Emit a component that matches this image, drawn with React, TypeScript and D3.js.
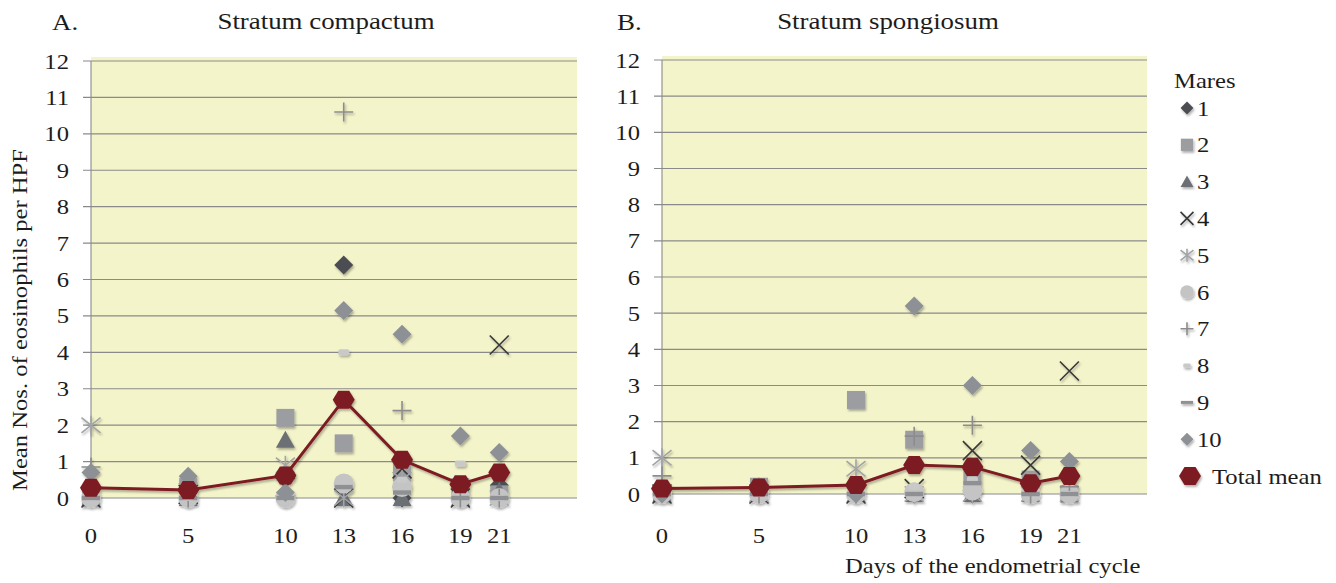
import React from 'react';
import * as d3 from 'd3';

// ---------- data ----------
const days = [0, 5, 10, 13, 16, 19, 21];
const yTickValues = d3.range(0, 13);
const mareLabels = ['1', '2', '3', '4', '5', '6', '7', '8', '9', '10'];

// Stratum compactum (panel A), values per day
const compactM1 = [0, 0.3, 0, 6.4, 0, 0, 0.35];
const compactM2 = [0, 0.3, 2.2, 1.5, 0.7, 0.3, 0.1];
const compactM3 = [0, 0, 1.6, 0, 0, 0, 0.2];
const compactM4 = [0, 0.1, 0.3, 0, 0.8, 0, 4.2];
const compactM5 = [2.0, 0.2, 0.9, 0, 0.5, 0.2, 0];
const compactM6 = [0, 0, 0, 0.4, 0.3, 0, 0];
const compactM7 = [0.85, 0, 0.5, 10.6, 2.4, 0, 0];
const compactM8 = [0, 0, 0, 4.0, 0.5, 0.95, 0];
const compactM9 = [0, 0, 0, 0.3, 0.15, 0, 0];
const compactM10 = [0.7, 0.6, 0.15, 5.15, 4.5, 1.7, 1.25];
const compactMean = [0.28, 0.22, 0.62, 2.7, 1.05, 0.38, 0.7];

// Stratum spongiosum (panel B)
const spongM1 = [0, 0, 0, 0, 0, 0, 0];
const spongM2 = [0, 0.2, 2.6, 1.5, 0.5, 0.4, 0];
const spongM3 = [0, 0, 0, 0, 0, 0, 0];
const spongM4 = [0, 0, 0, 0.15, 1.2, 0.8, 3.4];
const spongM5 = [1.0, 0, 0.7, 0, 0, 0, 0];
const spongM6 = [0, 0, 0, 0.05, 0.1, 0, 0];
const spongM7 = [0.5, 0, 0, 1.6, 1.9, 0, 0.2];
const spongM8 = [0, 0, 0, 0.2, 0.4, 0.4, 0];
const spongM9 = [0, 0, 0, 0, 0.3, 0, 0];
const spongM10 = [0, 0.2, 0, 5.2, 3.0, 1.2, 0.9];
const spongMean = [0.15, 0.18, 0.25, 0.8, 0.75, 0.3, 0.5];

const compactSeries = [compactM1, compactM2, compactM3, compactM4, compactM5, compactM6, compactM7, compactM8, compactM9, compactM10];
const spongSeries = [spongM1, spongM2, spongM3, spongM4, spongM5, spongM6, spongM7, spongM8, spongM9, spongM10];

// ---------- styles ----------
const markerKinds = ['diamond', 'square', 'triangle', 'cross', 'asterisk', 'circle', 'plus', 'dashShort', 'dashLong', 'diamond'];
const markerColors = ['#4b4d53', '#9b9da0', '#6c6f74', '#383838', '#a2a4a7', '#c4c4c4', '#8c8c8c', '#c9c9c9', '#8e9094', '#8d9095'];
const meanColor = '#7b1b22';
const FONT = "'Liberation Serif', 'Times New Roman', serif";

const Marker = ({ kind, color, s = 1 }: { kind: string; color: string; s?: number }) => {
  const h = 9.5 * s;
  switch (kind) {
    case 'diamond':
      return <path d={`M0,${-h}L${h},0L0,${h}L${-h},0Z`} fill={color} />;
    case 'square':
      return <rect x={-9 * s} y={-9 * s} width={18 * s} height={18 * s} fill={color} />;
    case 'triangle':
      return <path d={`M0,${-9 * s}L${9.5 * s},${8 * s}L${-9.5 * s},${8 * s}Z`} fill={color} />;
    case 'cross':
      return <path d={`M${-h},${-h}L${h},${h}M${-h},${h}L${h},${-h}`} stroke={color} strokeWidth={1.6} fill="none" />;
    case 'asterisk':
      return <path d={`M${-h},${-h * 0.8}L${h},${h * 0.8}M${-h},${h * 0.8}L${h},${-h * 0.8}M0,${-h}L0,${h}`} stroke={color} strokeWidth={1.6} fill="none" />;
    case 'circle':
      return <circle r={10 * s} fill={color} />;
    case 'plus':
      return <path d={`M${-h},0L${h},0M0,${-h}L0,${h}`} stroke={color} strokeWidth={1.6} fill="none" />;
    case 'dashShort':
      return <rect x={-5.5 * s} y={-3 * s} width={11 * s} height={6 * s} rx={2 * s} fill={color} />;
    case 'dashLong':
      return <rect x={-9 * s} y={-2.2 * s} width={18 * s} height={4.4 * s} fill={color} />;
    case 'hex':
      return <path d={`M${-11 * s},0L${-5.5 * s},${-9 * s}L${5.5 * s},${-9 * s}L${11 * s},0L${5.5 * s},${9 * s}L${-5.5 * s},${9 * s}Z`} fill={color} />;
    default:
      return null;
  }
};

const T = ({ x, y, anchor = 'start', size = 22, rotate = 0, children }: any) => (
  <text
    transform={`translate(${x},${y}) rotate(${rotate}) scale(1.12,1)`}
    textAnchor={anchor}
    fontSize={size}
    fontFamily={FONT}
    fill="#1c1c1c"
  >
    {children}
  </text>
);

const Panel = ({ left, right, top, bottom, series, mean, title, titleX, letter, letterX }: any) => {
  const x = d3.scaleLinear().domain([0, 25]).range([left, right]);
  const y = d3.scaleLinear().domain([0, 12]).range([bottom, top]);
  const line = d3.line<number>().x((_, i) => x(days[i])).y((d) => y(d));
  return (
    <g>
      <rect x={left} y={top - 4} width={right - left} height={bottom - top + 4} fill="#f4f4cb" />
      {yTickValues.map((t) => (
        <g key={t}>
          <line x1={left - 8} x2={right} y1={y(t)} y2={y(t)} stroke="#8a8a8a" strokeWidth={1.1} />
          <T x={left - 22} y={y(t) + 7.5} anchor="end">{t}</T>
        </g>
      ))}
      <line x1={left} x2={left} y1={top} y2={bottom} stroke="#8a8a8a" strokeWidth={1.1} />
      {days.map((d) => (
        <T key={d} x={x(d)} y={543} anchor="middle">{d}</T>
      ))}
      <T x={titleX} y={29} anchor="middle" size={24}>{title}</T>
      <T x={letterX} y={30} size={24}>{letter}</T>
      <g filter="url(#shadow)">
        {series.map((vals: number[], si: number) => (
          <g key={si}>
            {vals.map((v, i) => (
              <g key={i} transform={`translate(${x(days[i])},${y(v)})`}>
                <Marker kind={markerKinds[si]} color={markerColors[si]} />
              </g>
            ))}
          </g>
        ))}
        <path d={line(mean) || ''} fill="none" stroke={meanColor} strokeWidth={3} />
        {mean.map((v: number, i: number) => (
          <g key={i} transform={`translate(${x(days[i])},${y(v)})`}>
            <Marker kind="hex" color={meanColor} />
          </g>
        ))}
      </g>
    </g>
  );
};

export default function App() {
  const legendY = d3.scaleLinear().domain([0, 10]).range([108, 476]);
  return (
    <svg width={1336} height={583} style={{ position: 'absolute', left: 0, top: 0, background: '#fff' }}>
      <defs>
        <filter id="shadow" x="-20%" y="-20%" width="140%" height="140%">
          <feDropShadow dx={1.2} dy={2} stdDeviation={1.2} floodColor="#000" floodOpacity={0.3} />
        </filter>
      </defs>
      <rect width={1336} height={583} fill="#fff" />
      <Panel left={91} right={577} top={61} bottom={498} series={compactSeries} mean={compactMean}
        title="Stratum compactum" titleX={326} letter="A." letterX={52} />
      <Panel left={662} right={1147} top={60} bottom={494} series={spongSeries} mean={spongMean}
        title="Stratum spongiosum" titleX={888} letter="B." letterX={617} />
      <T x={27} y={320} anchor="middle" size={22} rotate={-90}>Mean Nos. of eosinophils per HPF</T>
      <T x={845} y={573} size={22}>Days of the endometrial cycle</T>
      <T x={1174} y={88} size={22}>Mares</T>
      <g filter="url(#shadow)">
        {mareLabels.map((lab, i) => (
          <g key={lab} transform={`translate(1187,${legendY(i)})`}>
            <Marker kind={markerKinds[i]} color={markerColors[i]} s={0.68} />
          </g>
        ))}
        <g transform={`translate(1190,${legendY(10)})`}>
          <Marker kind="hex" color={meanColor} />
        </g>
      </g>
      {mareLabels.map((lab, i) => (
        <T key={lab} x={1197} y={legendY(i) + 7.5}>{lab}</T>
      ))}
      <T x={1212} y={legendY(10) + 7.5}>Total mean</T>
    </svg>
  );
}
